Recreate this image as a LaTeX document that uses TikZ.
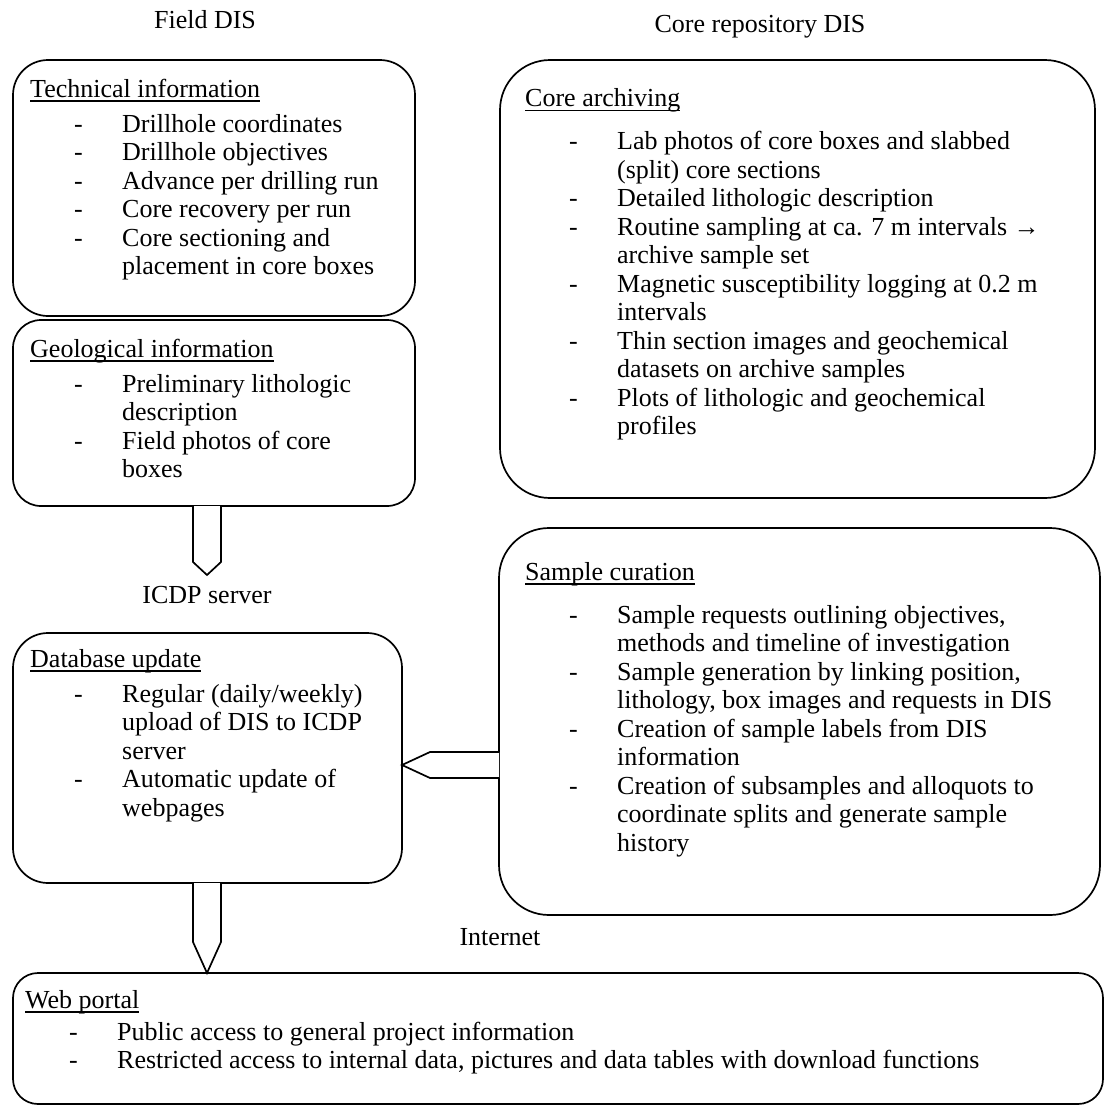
\documentclass[tikz,border=0pt]{standalone}
\usepackage{fontspec}
\setmainfont{Liberation Serif}
\usetikzlibrary{calc}
\newcommand\hd[1]{\rule{0pt}{20pt}\setbox0\hbox{#1}\rlap{\rule[-4.5pt]{\wd0}{1.3pt}}\box0}
\newcommand\bl{\hspace*{44pt}\makebox[48pt][l]{-}}
\newcommand\ct{\hspace*{92pt}}
\begin{document}
\begin{tikzpicture}[x=1pt,y=-1pt,
  box/.style={draw, line width=1.7pt, outer sep=0pt, inner sep=0pt, rectangle, anchor=north west},
  txt/.style={anchor=north west, inner sep=0pt, align=left, font=\fontsize{26}{28.5}\selectfont},
  lbl/.style={anchor=base, inner sep=0pt, font=\fontsize{26}{28.5}\selectfont},
  blk/.style={draw, line width=1.7pt, fill=white, line join=miter}]
\useasboundingbox (0,0) rectangle (1105,1106);

% boxes
\node[box, minimum width=402pt, minimum height=256pt, rounded corners=35pt] (tech) at (13,60) {};
\node[box, minimum width=402pt, minimum height=186pt, rounded corners=28pt] (geo) at (13,320) {};
\node[box, minimum width=389pt, minimum height=250pt, rounded corners=35pt] (db) at (13,633) {};
\node[box, minimum width=595pt, minimum height=438pt, rounded corners=50pt] (ca) at (500,60) {};
\node[box, minimum width=601pt, minimum height=387pt, rounded corners=50pt] (sc) at (499,528) {};
\node[box, minimum width=1090pt, minimum height=131pt, rounded corners=25pt] (web) at (13,973) {};

% labels
\node[lbl] (fdis) at (205,28) {Field DIS};
\node[lbl] (crdis) at (760,32) {Core repository DIS};
\node[lbl] (icdp) at (207,603) {ICDP server};
\node[lbl] (inet) at (500,945) {Internet};

% texts
\node[txt] (ttech) at (30,77) {\hd{Technical information}\\[6.5pt]
\bl Drillhole coordinates\\
\bl Drillhole objectives\\
\bl Advance per drilling run\\
\bl Core recovery per run\\
\bl Core sectioning and\\
\ct placement in core boxes};

\node[txt] (tgeo) at (30,337) {\hd{Geological information}\\[6.5pt]
\bl Preliminary lithologic\\
\ct description\\
\bl Field photos of core\\
\ct boxes};

\node[txt] (tdb) at (30,647) {\hd{Database update}\\[6.5pt]
\bl Regular (daily/weekly)\\
\ct upload of DIS to ICDP\\
\ct server\\
\bl Automatic update of\\
\ct webpages};

\node[txt] (tca) at (525,86.7) {\hd{Core archiving}\\[14.5pt]
\bl Lab photos of core boxes and slabbed\\
\ct (split) core sections\\
\bl Detailed lithologic description\\
\bl Routine sampling at ca. 7 m intervals →\\
\ct archive sample set\\
\bl Magnetic susceptibility logging at 0.2 m\\
\ct intervals\\
\bl Thin section images and geochemical\\
\ct datasets on archive samples\\
\bl Plots of lithologic and geochemical\\
\ct profiles};

\node[txt] (tsc) at (525,560) {\hd{Sample curation}\\[14.5pt]
\bl Sample requests outlining objectives,\\
\ct methods and timeline of investigation\\
\bl Sample generation by linking position,\\
\ct lithology, box images and requests in DIS\\
\bl Creation of sample labels from DIS\\
\ct information\\
\bl Creation of subsamples and alloquots to\\
\ct coordinate splits and generate sample\\
\ct history};

\node[txt] (tweb) at (25,988) {\hd{Web portal}\\[3.5pt]
\bl Public access to general project information\\
\bl Restricted access to internal data, pictures and data tables with download functions};

% block arrows
\coordinate (tip1) at (207,575);
\draw[blk] ($(geo.south -| tip1)+(-14,0)$) -- ($(tip1)+(-14,-13)$) -- (tip1) -- ($(tip1)+(14,-13)$) -- ($(geo.south -| tip1)+(14,0)$);

\coordinate (tip2) at (web.north -| tip1);
\draw[blk] ($(db.south -| tip2)+(-14,0)$) -- ($(tip2)+(-14,-31)$) -- (tip2) -- ($(tip2)+(14,-31)$) -- ($(db.south -| tip2)+(14,0)$);

\coordinate (y3) at (0,765);
\coordinate (tip3) at (db.east |- y3);
\draw[blk] ($(sc.west |- tip3)+(0,-13)$) -- ($(tip3)+(28,-13)$) -- (tip3) -- ($(tip3)+(28,13)$) -- ($(sc.west |- tip3)+(0,13)$);
\end{tikzpicture}
\end{document}
